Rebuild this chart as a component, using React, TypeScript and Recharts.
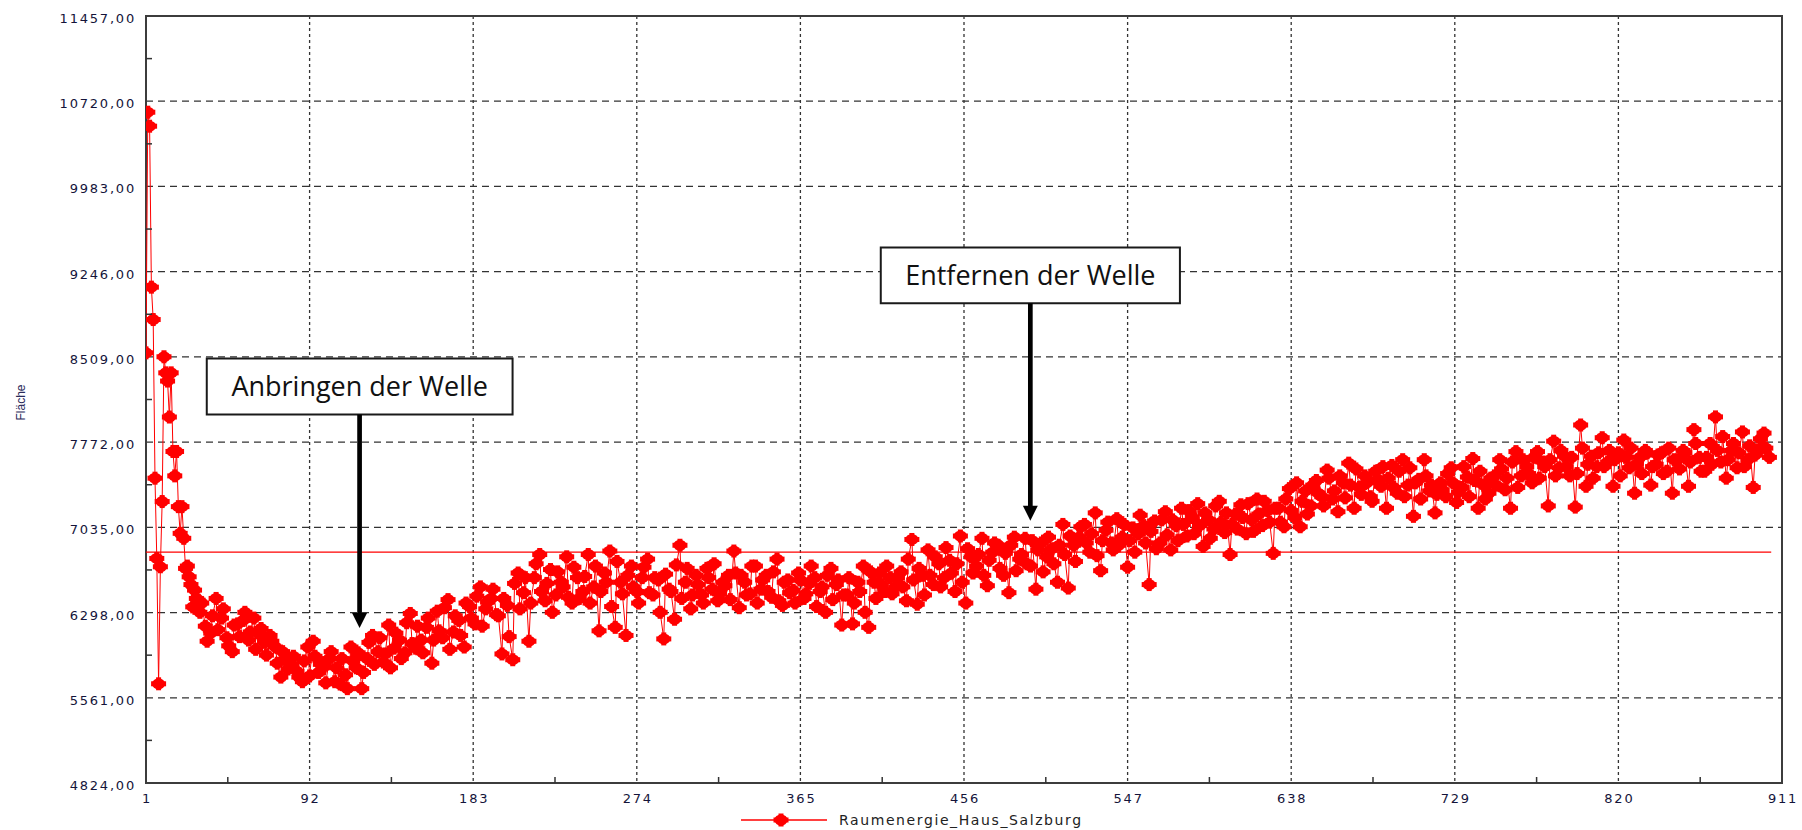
import {
  LineChart,
  Line,
  XAxis,
  YAxis,
  CartesianGrid,
  ReferenceLine,
  ReferenceArea,
  ReferenceDot,
  Legend,
} from "recharts";

const SERIES_NAME = "Raumenergie_Haus_Salzburg";
const Y_LABEL = "Fläche";

const X_TICKS = [1, 92, 183, 274, 365, 456, 547, 638, 729, 820, 911];
const Y_TICKS = [4824, 5561, 6298, 7035, 7772, 8509, 9246, 9983, 10720, 11457];

// first 30 measurements, one per index
const START_VALUES = [
  8544, 10625, 10504, 9112, 8832, 7460, 6766, 5682, 6694, 7258,
  8510, 8371, 8300, 7989, 8371, 7691, 7480, 7691, 7214, 6983,
  7214, 6940, 6680, 6700, 6607, 6540, 6347, 6492, 6420, 6405,
];

// index 31, 34, 37, ...
const VALUES_A = [
  6300, 6180, 6120, 6420, 6250, 6080, 5960, 6200, 6230, 6060,
  6250, 6110, 6040, 6100, 6000, 5740, 5900, 5850, 5790, 5700,
  6000, 6050, 5780, 5830, 5900, 5700, 5680, 5760, 6000, 5820,
  5640, 5900, 6100, 5960, 5870, 6190, 5990, 6060, 5950, 6290,
  5990, 6060, 6170, 5860, 6310, 6080, 6410, 6130, 6230, 6000,
  6350, 6200, 6520, 6330, 6420, 6280, 5940, 6360, 5890, 6640,
  6470, 6050, 6600, 6800, 6400, 6670, 6450, 6560, 6780, 6380,
  6600, 6480, 6800, 6520, 6140, 6640, 6830, 6170, 6560, 6100,
  6700, 6480, 6600, 6760, 6450, 6580, 6070, 6500, 6240, 6880,
  6560, 6330, 6620, 6450, 6680, 6500, 6400, 6560, 6620, 6830,
  6340, 6560, 6460, 6700, 6500, 6620, 6430, 6760, 6360, 6580,
  6490, 6640, 6420, 6550, 6600, 6480, 6300, 6680, 6540, 6190,
  6450, 6200, 6560, 6700, 6170, 6560, 6640, 6480, 6600, 6520,
  6650, 6400, 6930, 6370, 6620, 6840, 6540, 6720, 6600, 6750,
  6480, 6960, 6380, 6780, 6700, 6940, 6530, 6820, 6880, 6620,
  6470, 6950, 6760, 6940, 6700, 6500, 6900, 6780, 6850, 6560,
  7060, 6510, 6880, 6950, 7060, 6820, 7160, 6660, 7010, 6900,
  7110, 6950, 6690, 7030, 6980, 7050, 6540, 7090, 6900, 7170,
  6840, 7050, 7200, 6960, 7120, 7240, 6870, 7100, 7020, 7260,
  6990, 6800, 7150, 7230, 6980, 7100, 7280, 7050, 7180, 6810,
  7200, 7040, 7370, 7120, 7040, 7350, 7220, 7440, 7300, 7530,
  7280, 7170, 7420, 7590, 7200, 7380, 7480, 7300, 7520, 7390,
  7200, 7570, 7330, 7620, 7400, 7130, 7450, 7620, 7350, 7160,
  7420, 7300, 7550, 7250, 7380, 7470, 7630, 7200, 7400, 7330,
  7480, 7620, 7360, 7200, 7690, 7480, 7560, 7420, 7690, 7600,
  7220, 7780, 7550, 7650, 7480, 7210, 7920, 7390, 7650, 7560,
  7810, 7600, 7390, 7680, 7790, 7550, 7330, 7640, 7700, 7400,
  7580, 7680, 7520, 7330, 7620, 7700, 7390, 7880, 7640, 7520,
  7760, 7990, 7600, 7460, 7700, 7550, 7860, 7620, 7380, 7700,
  7850, 7640,
];

// index 32, 35, 38, ...
const VALUES_B = [
  6380, 6050, 6270, 6150, 6330, 6010, 6190, 6090, 6300, 6130,
  5980, 6160, 5930, 6050, 5860, 5960, 5810, 5920, 5740, 5880,
  5750, 5920, 5850, 5690, 5960, 5820, 5900, 5640, 5880, 5950,
  5780, 6040, 5850, 6080, 5940, 5820, 6120, 5900, 6210, 6030,
  6180, 5950, 6250, 6060, 6140, 6340, 5980, 6270, 6100, 6380,
  6250, 6440, 6180, 6390, 6500, 6270, 6420, 6090, 6550, 6330,
  6600, 6380, 6720, 6480, 6550, 6300, 6650, 6520, 6430, 6690,
  6420, 6610, 6380, 6700, 6480, 6560, 6350, 6740, 6460, 6620,
  6520, 6380, 6690, 6470, 6600, 6300, 6630, 6480, 6710, 6420,
  6680, 6450, 6540, 6380, 6600, 6720, 6460, 6530, 6410, 6640,
  6620, 6450, 6700, 6380, 6580, 6480, 6650, 6400, 6560, 6470,
  6380, 6580, 6460, 6700, 6350, 6520, 6620, 6410, 6580, 6450,
  6600, 6380, 6480, 6300, 6650, 6420, 6540, 6700, 6460, 6600,
  6520, 6760, 6580, 6680, 6450, 6620, 6780, 6520, 6860, 6640,
  6720, 6560, 6850, 6640, 6800, 6620, 6750, 6900, 6680, 6810,
  6880, 6660, 6800, 6720, 6920, 6840, 6650, 6950, 6720, 6880,
  6800, 6960, 6740, 7040, 6900, 6980, 6790, 6920, 7080, 6840,
  6880, 7060, 6920, 6820, 7140, 6900, 7000, 6850, 7100, 6970,
  7100, 6920, 7060, 7180, 6980, 7050, 7160, 6940, 7220, 7080,
  7160, 7060, 7020, 7120, 7240, 7000, 7150, 7260, 7080, 7200,
  7080, 7280, 7180, 7420, 7260, 7150, 7400, 7330, 7220, 7460,
  7350, 7480, 7290, 7400, 7540, 7320, 7420, 7260, 7450, 7560,
  7460, 7380, 7520, 7300, 7550, 7420, 7280, 7480, 7400, 7320,
  7360, 7500, 7420, 7340, 7560, 7300, 7440, 7520, 7280, 7460,
  7400, 7540, 7460, 7600, 7380, 7620, 7500, 7640, 7460, 7560,
  7620, 7480, 7700, 7560, 7640, 7500, 7720, 7580, 7460, 7680,
  7560, 7700, 7620, 7480, 7640, 7720, 7580, 7500, 7680, 7560,
  7660, 7500, 7720, 7620, 7540, 7680, 7600, 7760, 7520, 7640,
  7580, 7700, 7820, 7620, 7760, 7680, 7560, 7740, 7660, 7800,
  7720,
];

const MEAN_VALUE = 6820;
const MEAN_LAST_INDEX = 905;

const NOTES = [
  { text: "Anbringen der Welle", x1: 34.8, x2: 204.9, y1: 8011, y2: 8495, tipX: 119.8, tipY: 6165 },
  { text: "Entfernen der Welle", x1: 409.7, x2: 576.1, y1: 8972, y2: 9454, tipX: 492.9, tipY: 7093 },
];

const data = [
  ...START_VALUES.map((v, k) => ({ i: k + 1, v })),
  ...VALUES_A.map((v, k) => ({ i: 31 + 3 * k, v })),
  ...VALUES_B.map((v, k) => ({ i: 32 + 3 * k, v })),
].sort((a, b) => a.i - b.i);

// tick arrays with the unlabelled minor ticks in between
const xTicksAll = X_TICKS.flatMap((t, k) =>
  k < X_TICKS.length - 1 ? [t, (t + X_TICKS[k + 1]) / 2] : [t]
);
const yTicksAll = Y_TICKS.flatMap((t, k) =>
  k < Y_TICKS.length - 1 ? [t, (t + Y_TICKS[k + 1]) / 2] : [t]
);

const RED = "#ff0000";
const AXIS_TEXT = "#14143a";
const tickFont = { fontFamily: "DejaVu Sans", fontSize: 13, letterSpacing: 1.8 };

const fmt = (v: number) => v.toFixed(2).replace(".", ",");

function Blob({ cx, cy }: { cx: number; cy: number }) {
  return (
    <g fill={RED}>
      <ellipse cx={cx} cy={cy} rx={6.5} ry={5.5} />
      <rect x={cx - 7.5} y={cy - 2.5} width={15} height={5} />
      <rect x={cx - 2.5} y={cy - 6.5} width={5} height={13} />
    </g>
  );
}

function XTick(props: any) {
  const { x, y, payload } = props;
  if (!X_TICKS.includes(payload.value)) {
    return <line x1={x} x2={x} y1={y} y2={y - 6} stroke="#333" strokeWidth={1.5} />;
  }
  return (
    <text x={x + 1} y={y + 20} textAnchor="middle" fill={AXIS_TEXT} style={tickFont}>
      {payload.value}
    </text>
  );
}

function YTick(props: any) {
  const { x, y, payload } = props;
  if (!Y_TICKS.includes(payload.value)) {
    return <line x1={x} x2={x + 6} y1={y} y2={y} stroke="#333" strokeWidth={1.5} />;
  }
  return (
    <text x={x - 10} y={y + 7} textAnchor="end" fill={AXIS_TEXT} style={tickFont}>
      {fmt(payload.value)}
    </text>
  );
}

function YLabel(props: any) {
  const vb = props.viewBox;
  const cx = vb.x + 25;
  const cy = vb.y + vb.height / 2 + 3;
  return (
    <text
      x={cx}
      y={cy}
      transform={`rotate(-90 ${cx} ${cy})`}
      textAnchor="middle"
      fill="#2a2a5a"
      style={{ fontFamily: "Liberation Sans", fontSize: 12 }}
    >
      {Y_LABEL}
    </text>
  );
}

function LegendContent() {
  return (
    <div style={{ display: "flex", alignItems: "center", paddingLeft: 741 }}>
      <svg width={88} height={18}>
        <line x1={0} x2={86} y1={9} y2={9} stroke={RED} strokeWidth={1.5} />
        <Blob cx={40} cy={9} />
      </svg>
      <span
        style={{
          marginLeft: 10,
          fontFamily: "DejaVu Sans",
          fontSize: 14,
          letterSpacing: 1.6,
          color: "#222",
          lineHeight: "18px",
        }}
      >
        {SERIES_NAME}
      </span>
    </div>
  );
}

function ArrowHead(props: any) {
  const { cx, cy } = props;
  return <path d={`M${cx - 7.5},${cy - 15} L${cx + 7.5},${cy - 15} L${cx},${cy} Z`} fill="#000" />;
}

export default function App() {
  return (
    <div style={{ position: "absolute", left: 0, top: 0, width: 1802, height: 830, background: "#fff" }}>
      <LineChart width={1802} height={830} data={data} margin={{ top: 16, right: 20, bottom: 0, left: 0 }}>
        <CartesianGrid
          vertical={false}
          horizontalValues={Y_TICKS.slice(1, -1)}
          stroke="#333"
          strokeWidth={1.3}
          strokeDasharray="7 5"
        />
        <CartesianGrid
          horizontal={false}
          verticalValues={X_TICKS.slice(1, -1)}
          stroke="#333"
          strokeWidth={1.3}
          strokeDasharray="3 3"
        />
        <XAxis
          dataKey="i"
          type="number"
          domain={[1, 911]}
          ticks={xTicksAll}
          interval={0}
          allowDataOverflow
          axisLine={false}
          tickLine={false}
          tickSize={0}
          tickMargin={0}
          height={47}
          tick={XTick}
        />
        <YAxis
          type="number"
          domain={[4824, 11457]}
          ticks={yTicksAll}
          interval={0}
          allowDataOverflow
          axisLine={false}
          tickLine={false}
          tickSize={0}
          tickMargin={0}
          width={146}
          tick={YTick}
          label={<YLabel />}
        />
        <ReferenceArea
          x1={1}
          x2={911}
          y1={4824}
          y2={11457}
          fill="none"
          stroke="#3c3c3c"
          strokeWidth={2}
          ifOverflow="visible"
        />
        <ReferenceLine
          segment={[
            { x: 1, y: MEAN_VALUE },
            { x: MEAN_LAST_INDEX, y: MEAN_VALUE },
          ]}
          stroke={RED}
          strokeWidth={1.3}
        />
        <Line
          dataKey="v"
          name={SERIES_NAME}
          stroke={RED}
          strokeWidth={1}
          isAnimationActive={false}
          activeDot={false}
          dot={(p: any) => <Blob key={p.index} cx={p.cx} cy={p.cy} />}
        />
        {NOTES.map((n) => (
          <ReferenceLine
            key={n.text + "-shaft"}
            segment={[
              { x: n.tipX, y: n.y1 },
              { x: n.tipX, y: n.tipY + 100 },
            ]}
            stroke="#000"
            strokeWidth={4.7}
          />
        ))}
        {NOTES.map((n) => (
          <ReferenceDot key={n.text + "-head"} x={n.tipX} y={n.tipY} r={1} shape={ArrowHead} />
        ))}
        {NOTES.map((n) => (
          <ReferenceArea
            key={n.text}
            x1={n.x1}
            x2={n.x2}
            y1={n.y1}
            y2={n.y2}
            fill="#fff"
            fillOpacity={1}
            stroke="#1a1a1a"
            strokeWidth={2}
            label={{
              value: n.text,
              position: "center",
              fill: "#111",
              fontSize: 27,
              fontFamily: "Open Sans",
            }}
          />
        ))}
        <Legend
          layout="horizontal"
          verticalAlign="middle"
          align="center"
          wrapperStyle={{ position: "absolute", left: 0, top: 811, width: 1802, height: 18 }}
          content={<LegendContent />}
        />
      </LineChart>
    </div>
  );
}
